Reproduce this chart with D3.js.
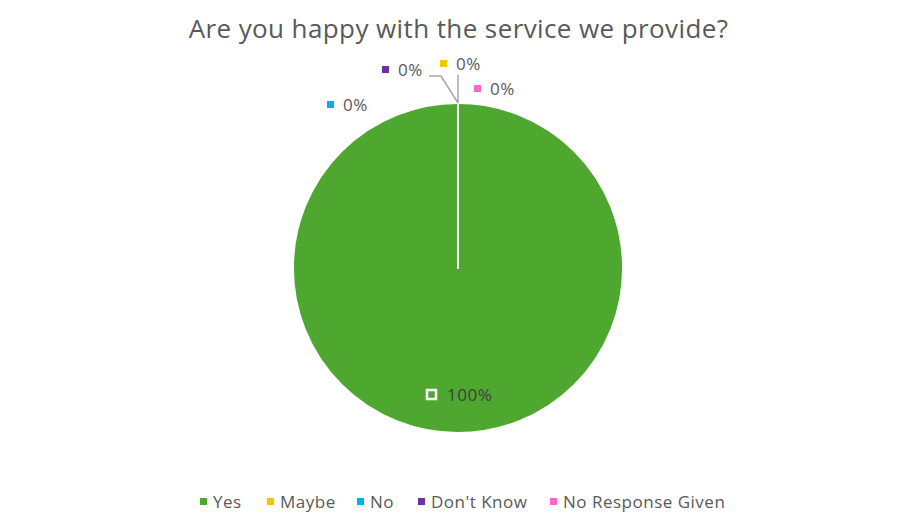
<!DOCTYPE html>
<html>
<head>
<meta charset="utf-8">
<script src="https://cdn.jsdelivr.net/npm/d3@7"></script>
<style>
	body { margin: 0; background: #ffffff; }
	text { font-family: "Open Sans", "Liberation Sans", sans-serif; }
</style>
</head>
<body>
<div id="chart"></div>
<script>
"use strict"

// data
var categories = ["Yes", "Maybe", "No", "Don't Know", "No Response Given"];
var values     = [100, 0, 0, 0, 0];
var colors     = ["#4ea72e", "#ffc000", "#00b0f0", "#7030a0", "#ff66cc"];
var titleText  = "Are you happy with the service we provide?";

// label placement (best-fit offsets from the slice edge, in px)
var labelOffsets = [
	{dx: -31, dy: 127},
	{dx: -18, dy: -39},
	{dx: -131, dy: 2},
	{dx: -76, dy: -33},
	{dx: 16, dy: -14}
];

var width = 917, height = 530;
var cx = 458, cy = 268, radius = 165;

var svg = d3.select("#chart").append("svg")
	.attr("width", width)
	.attr("height", height);

svg.append("text")
	.attr("x", width / 2)
	.attr("y", 38)
	.attr("text-anchor", "middle")
	.style("font-size", "26px")
	.style("letter-spacing", "0.4px")
	.attr("fill", "#595959")
	.text(titleText);

var data = categories.map(function(c, i) {
	return {name: c, value: values[i], color: colors[i], i: i};
});

var pie = d3.pie().sort(null).value(function(d) { return d.value; });
var arc = d3.arc().innerRadius(0).outerRadius(radius);
var arcs = pie(data);

var g = svg.append("g").attr("transform", "translate(" + cx + "," + cy + ")");

g.selectAll("path.slice")
	.data(arcs)
	.enter().append("path")
	.attr("class", "slice")
	.attr("d", arc)
	.attr("fill", function(d) { return d.data.color; })
	.attr("stroke", "#ffffff")
	.attr("stroke-width", 2)
	.attr("stroke-linejoin", "round");

var total = d3.sum(values);
var fmt = function(v) { return Math.round(v / total * 100) + "%"; };

// label anchor: edge point for zero slices, offset from there
function labelPos(d) {
	var a = (d.startAngle + d.endAngle) / 2;
	var r = d.value === 0 ? radius : 0;
	var o = labelOffsets[d.data.i];
	return [Math.sin(a) * r + o.dx, -Math.cos(a) * r + o.dy];
}

// leader lines for the labels that sit away from the edge
var leaders = [
	{i: 3, pts: function(p, e) { return [e, [p[0] + 59, p[1] + 6], [p[0] + 47, p[1] + 6]]; }},
	{i: 1, pts: function(p, e) { return [e, [e[0], p[1] + 11]]; }}
];
leaders.forEach(function(l) {
	var d = arcs[l.i];
	var a = d.endAngle;
	var e = [Math.sin(a) * radius, -Math.cos(a) * radius];
	var p = labelPos(d);
	g.append("polyline")
		.attr("points", l.pts(p, e).map(function(q) { return q.join(","); }).join(" "))
		.attr("fill", "none")
		.attr("stroke", "#a6a6a6")
		.attr("stroke-width", 1.5);
});

var lab = g.selectAll("g.lab")
	.data(arcs)
	.enter().append("g")
	.attr("class", "lab")
	.attr("transform", function(d) {
		var p = labelPos(d);
		return "translate(" + p[0] + "," + p[1] + ")";
	});

lab.append("rect")
	.attr("x", 0)
	.attr("y", function(d) { return d.value === 0 ? -4 : -5; })
	.attr("width", function(d) { return d.value === 0 ? 7 : 9; })
	.attr("height", function(d) { return d.value === 0 ? 7 : 9; })
	.attr("fill", function(d) { return d.data.color; })
	.attr("stroke", function(d) { return d.value === 0 ? "none" : "#ffffff"; })
	.attr("stroke-width", 2.5);

lab.append("text")
	.attr("x", function(d) { return d.value === 0 ? 16 : 20; })
	.attr("y", 6)
	.style("font-size", "17px")
	.style("letter-spacing", "0.5px")
	.attr("fill", function(d) { return d.value === 0 ? "#595959" : "#404040"; })
	.text(function(d) { return fmt(d.value); });

// legend
var legendX = [200, 267, 357, 418, 550];
var legend = svg.append("g").attr("transform", "translate(0,502)");
var item = legend.selectAll("g.item")
	.data(data)
	.enter().append("g")
	.attr("class", "item")
	.attr("transform", function(d, i) { return "translate(" + legendX[i] + ",0)"; });
item.append("rect")
	.attr("x", 0).attr("y", -4)
	.attr("width", 7).attr("height", 7)
	.attr("fill", function(d) { return d.color; });
item.append("text")
	.attr("x", 13).attr("y", 6)
	.style("font-size", "17px")
	.style("letter-spacing", "0.5px")
	.attr("fill", "#595959")
	.text(function(d) { return d.name; });
</script>
</body>
</html>
